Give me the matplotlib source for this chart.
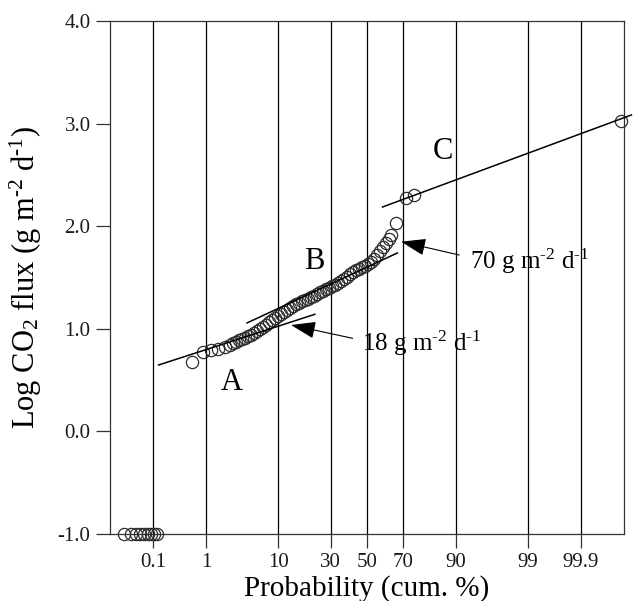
import numpy as np
import matplotlib
matplotlib.use("Agg")
import matplotlib.pyplot as plt
from matplotlib.ticker import FixedLocator, FixedFormatter, NullLocator
from statistics import NormalDist

plt.rcParams['font.family'] = ['Liberation Serif', 'DejaVu Serif']
plt.rcParams['mathtext.fontset'] = 'custom'
plt.rcParams['mathtext.rm'] = 'Liberation Serif'
plt.rcParams['mathtext.it'] = 'Liberation Serif:italic'
plt.rcParams['mathtext.bf'] = 'Liberation Serif:bold'

# ---------------- data ----------------
# zero-flux observations plotted at log = -1.0
prob_zero = [0.0216, 0.0326, 0.0423, 0.052, 0.062, 0.0747, 0.0866, 0.103, 0.1215]
flux_zero = [-1.0, -1.0, -1.0, -1.0, -1.0, -1.0, -1.0, -1.0, -1.0]

# measured fluxes (cumulative probability %, log flux)
prob_pct = [0.575, 0.89, 1.21, 1.56, 2.00, 2.39,
            2.62, 2.92, 3.21, 3.54, 3.88, 4.26, 4.67, 5.11, 5.58, 6.07,
            6.63, 7.19, 7.81, 8.45, 9.15, 9.88, 10.65, 11.47, 12.31, 13.24,
            14.18, 15.17, 16.21, 17.29, 18.43, 19.59, 20.81, 22.07, 23.37, 24.72,
            26.10, 27.54, 28.98, 30.48, 32.05, 33.61, 35.20, 36.82, 38.45, 40.11,
            41.78, 43.48, 45.19, 46.90, 48.62, 50.34, 52.07, 53.78, 55.49, 57.20,
            58.89, 60.56, 62.21, 63.83,
            66.50, 71.56, 75.34, 99.988]
log_flux = [0.681, 0.774, 0.793, 0.803, 0.823, 0.842,
            0.862, 0.871, 0.891, 0.901, 0.910, 0.930, 0.940, 0.959, 0.979, 0.998,
            1.018, 1.037, 1.066, 1.086, 1.105, 1.125, 1.144, 1.164, 1.183, 1.203,
            1.222, 1.242, 1.251, 1.271, 1.281, 1.290, 1.310, 1.320, 1.339, 1.359,
            1.368, 1.388, 1.398, 1.417, 1.427, 1.446, 1.466, 1.485, 1.505, 1.534,
            1.554, 1.573, 1.583, 1.602, 1.612, 1.632, 1.651, 1.680, 1.719, 1.758,
            1.797, 1.836, 1.875, 1.914,
            2.031, 2.275, 2.304, 3.025]

# population fit lines (endpoints)
lineA_prob = [0.128, 22.5]
lineA_flux = [0.647, 1.141]
lineB_prob = [4.13, 67.0]
lineB_flux = [1.057, 1.739]
lineC_prob = [58.89, 99.9935]
lineC_flux = [2.187, 3.084]

x_ticks = [0.1, 1, 10, 30, 50, 70, 90, 99, 99.9]
x_ticklabels = ["0.1", "1", "10", "30", "50", "70", "90", "99", "99.9"]
y_ticks = [-1.0, 0.0, 1.0, 2.0, 3.0, 4.0]
y_ticklabels = ["-1.0", "0.0", "1.0", "2.0", "3.0", "4.0"]

# ---------------- probability scale ----------------
_nd = NormalDist()
_inv = np.vectorize(_nd.inv_cdf, otypes=[float])
_cdf = np.vectorize(_nd.cdf, otypes=[float])


def to_z(p):
    p = np.asarray(p, dtype=float)
    q = np.clip(p / 100.0, 1e-12, 1 - 1e-12)
    good = np.isfinite(q)
    out = _inv(np.where(good, q, 0.5))
    return np.where(good, out, np.nan)


def to_p(z):
    z = np.asarray(z, dtype=float)
    return _cdf(z) * 100.0


fig = plt.figure(figsize=(6.33, 6.01), dpi=100)
ax = fig.add_axes([0.1738, 0.1115, 0.812, 0.8536])
ax.set_xscale('function', functions=(to_z, to_p))
ax.set_xlim(0.01, 99.99)
ax.set_ylim(-1.0, 4.0)

ax.xaxis.set_major_locator(FixedLocator(x_ticks))
ax.xaxis.set_major_formatter(FixedFormatter(x_ticklabels))
ax.xaxis.set_minor_locator(NullLocator())
ax.yaxis.set_major_locator(FixedLocator(y_ticks))
ax.yaxis.set_major_formatter(FixedFormatter(y_ticklabels))
ax.yaxis.set_minor_locator(NullLocator())

ax.grid(axis='x', color='black', lw=0.9)
ax.set_axisbelow(True)
ax.tick_params(axis='both', direction='out', length=10, width=0.9,
               labelsize=15, color='#333333', labelcolor='#1a1a1a', pad=4)
ax.tick_params(axis='x', pad=4)
for s in ax.spines.values():
    s.set_color('#333333')
    s.set_linewidth(0.9)

mk = dict(linestyle='none', marker='o', markersize=8.8, markerfacecolor='none',
          markeredgecolor='#2e2e2e', markeredgewidth=0.9, clip_on=False, zorder=3)
ax.plot(prob_zero, flux_zero, **mk)
ax.plot(prob_pct, log_flux, **mk)

ln = dict(color='black', lw=1.1, zorder=4, clip_on=False)
ax.plot(lineA_prob, lineA_flux, **ln)
ax.plot(lineB_prob, lineB_flux, **ln)
ax.plot(lineC_prob, lineC_flux, **ln)

ax.text(2.55, 0.472, "A", fontsize=22, ha='center', va='center')
ax.text(22.1, 1.651, "B", fontsize=22, ha='center', va='center')
ax.text(86.5, 2.723, "C", fontsize=22, ha='center', va='center')

arrow = dict(arrowstyle='-|>,head_length=1.1,head_width=0.38', color='black',
             lw=0.8, shrinkA=0, shrinkB=0, mutation_scale=14)
ax.annotate("", xy=(13.55, 1.037), xytext=(41.78, 0.907), arrowprops=arrow)
ax.annotate("", xy=(68.9, 1.849), xytext=(90.9, 1.719), arrowprops=arrow)
ax.text(46.9, 0.861, r"18 g m$^{\text{-2}}$ d$^{\text{-1}}$", fontsize=18,
        ha='left', va='center')
ax.text(93.16, 1.661, r"70 g m$^{\text{-2}}$ d$^{\text{-1}}$", fontsize=18,
        ha='left', va='center')

ax.set_xlabel("Probability (cum. %)", fontsize=21)
ax.xaxis.label.set_va('center')
ax.xaxis.set_label_coords(0.5, -0.1065)
ax.set_ylabel(r"Log CO$_2$ flux (g m$^{\text{-2}}$ d$^{\text{-1}}$)", fontsize=22)
ax.yaxis.label.set_va('center')
ax.yaxis.set_label_coords(-0.163, 0.5)

fig.savefig("out.png", dpi=100)
